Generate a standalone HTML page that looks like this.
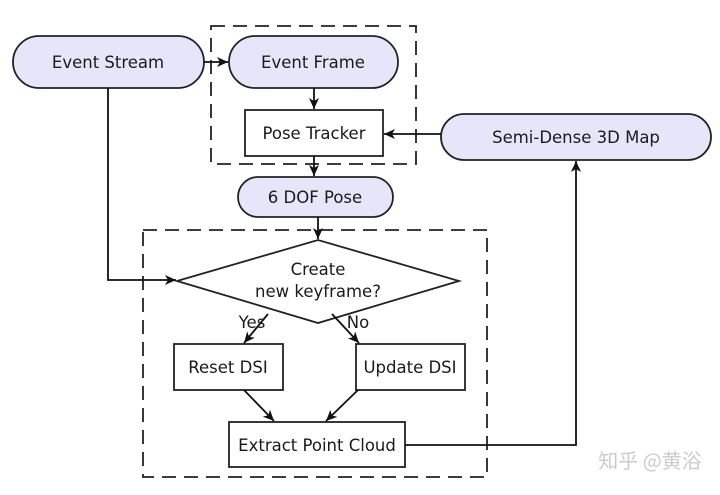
<!DOCTYPE html>
<html><head><meta charset="utf-8"><style>
body{margin:0;background:#fff;}
svg text{font-family:"DejaVu Sans","Liberation Sans",sans-serif;font-size:16.5px;fill:#1a1a1a;text-anchor:middle;}
</style></head><body>
<svg width="720" height="490" viewBox="0 0 720 490" xmlns="http://www.w3.org/2000/svg">
<defs><marker id="a" markerWidth="12" markerHeight="12" refX="11" refY="6" orient="auto" markerUnits="userSpaceOnUse"><path d="M0,1 L11,6 L0,11 L3,6 z" fill="#111"/></marker></defs>
<g fill="none" stroke="#222" stroke-width="1.8" stroke-dasharray="14,8">
<rect x="211" y="26" width="205" height="138"/>
<rect x="143" y="230" width="344" height="247"/>
</g>
<g stroke="#222" stroke-width="1.8" fill="#e6e6fa">
<rect x="13" y="36" width="191" height="52" rx="26"/>
<rect x="229" y="36" width="169" height="52" rx="26"/>
<rect x="441" y="114" width="270" height="46" rx="23"/>
<rect x="238" y="177" width="155" height="40" rx="20"/>
</g>
<g stroke="#222" stroke-width="1.8" fill="#fff">
<rect x="245" y="110" width="138" height="46"/>
<polygon points="177,281 318,240 459,281 318,323"/>
<rect x="174" y="344" width="109" height="46"/>
<rect x="356" y="344" width="109" height="46"/>
<rect x="229" y="422" width="176" height="45"/>
</g>
<g stroke="#111" stroke-width="1.8" fill="none" marker-end="url(#a)">
<line x1="204" y1="62" x2="228" y2="62"/>
<line x1="314" y1="88" x2="314" y2="109"/>
<line x1="441" y1="134" x2="384" y2="134"/>
<line x1="314" y1="156" x2="314" y2="176"/>
<line x1="318" y1="217" x2="318" y2="239"/>
<polyline points="108,88 108,280 176,280"/>
<line x1="268" y1="314" x2="244" y2="343"/>
<line x1="332" y1="314" x2="359" y2="343"/>
<line x1="244" y1="390" x2="274" y2="421"/>
<line x1="358" y1="390" x2="326" y2="421"/>
<polyline points="405,445 576,445 576,161"/>
</g>
<text x="108" y="68">Event Stream</text>
<text x="313" y="68">Event Frame</text>
<text x="314" y="139">Pose Tracker</text>
<text x="576" y="143">Semi-Dense 3D Map</text>
<text x="315" y="203">6 DOF Pose</text>
<text x="318" y="275">Create</text>
<text x="318" y="297">new keyframe?</text>
<text x="252" y="328">Yes</text>
<text x="358" y="328">No</text>
<text x="228" y="373">Reset DSI</text>
<text x="410" y="373">Update DSI</text>
<text x="317" y="451">Extract Point Cloud</text>
<text x="650" y="468" style="font-family:'Noto Sans CJK SC',sans-serif;font-size:20px;fill:#ccc">知乎 @黄浴</text>
</svg>
</body></html>
